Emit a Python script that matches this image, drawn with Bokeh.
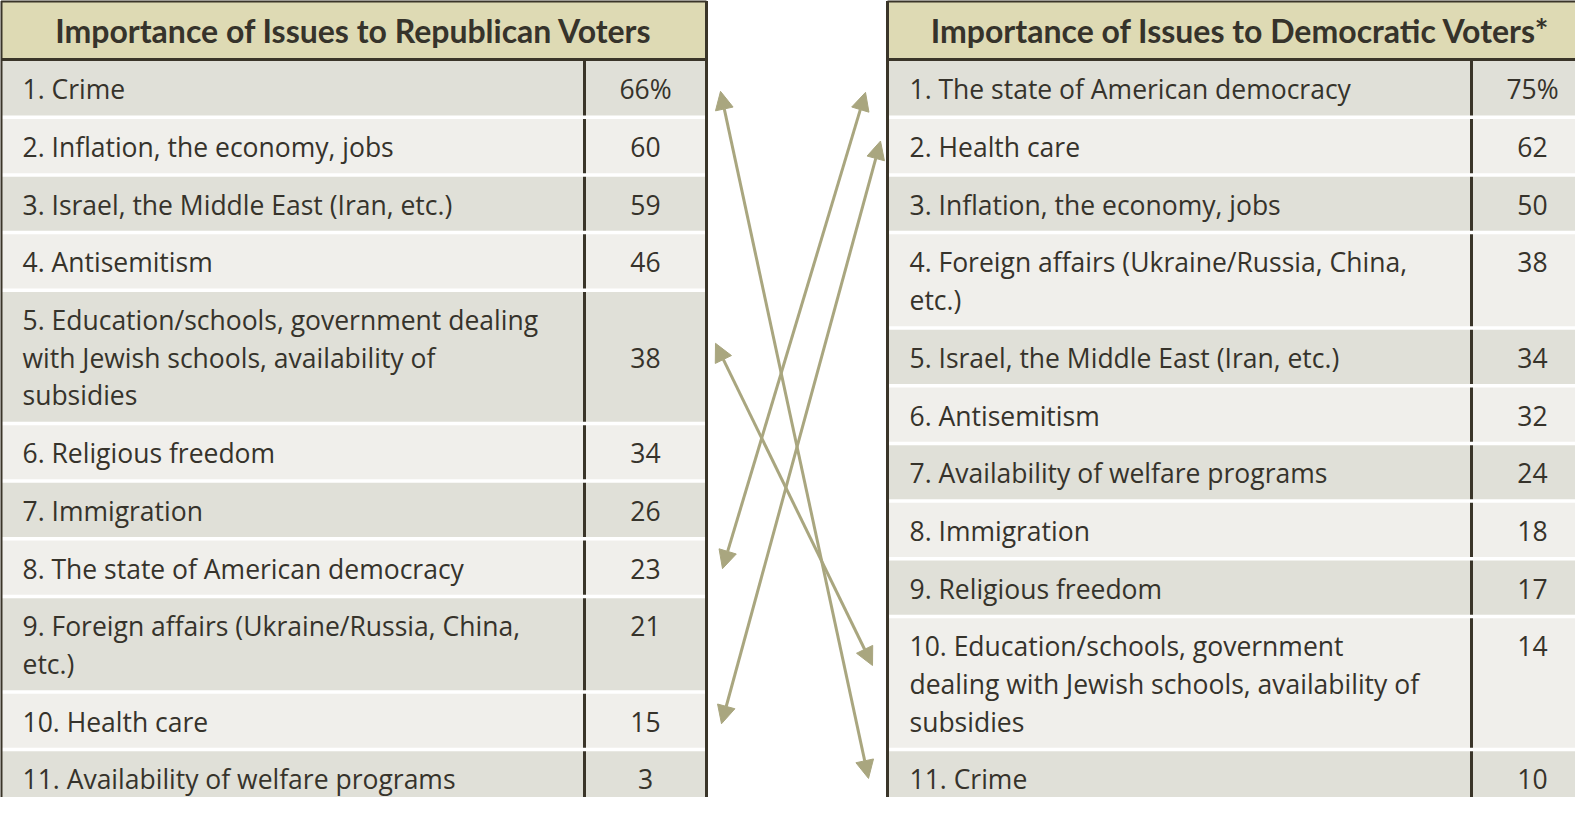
from bokeh.plotting import figure
from bokeh.models import Range1d, ColumnDataSource, Arrow, NormalHead
from bokeh.core.properties import value
from bokeh.embed import file_html
from bokeh.resources import INLINE

# ---------------- data ----------------
rep_title = "Importance of Issues to Republican Voters"
rep_issues = [
    "Crime",
    "Inflation, the economy, jobs",
    "Israel, the Middle East (Iran, etc.)",
    "Antisemitism",
    "Education/schools, government dealing\nwith Jewish schools, availability of\nsubsidies",
    "Religious freedom",
    "Immigration",
    "The state of American democracy",
    "Foreign affairs (Ukraine/Russia, China,\netc.)",
    "Health care",
    "Availability of welfare programs",
]
rep_values = [66, 60, 59, 46, 38, 34, 26, 23, 21, 15, 3]

dem_title = "Importance of Issues to Democratic Voters*"
dem_issues = [
    "The state of American democracy",
    "Health care",
    "Inflation, the economy, jobs",
    "Foreign affairs (Ukraine/Russia, China,\netc.)",
    "Israel, the Middle East (Iran, etc.)",
    "Antisemitism",
    "Availability of welfare programs",
    "Immigration",
    "Religious freedom",
    "Education/schools, government\ndealing with Jewish schools, availability of\nsubsidies",
    "Crime",
]
dem_values = [75, 62, 50, 38, 34, 32, 24, 18, 17, 14, 10]

arrow_issues = [
    "Crime",
    "The state of American democracy",
    "Health care",
    "Education/schools, government dealing with Jewish schools, availability of subsidies",
]

# ---------------- style ----------------
HEADER_TOP, HEADER_BOT = 8.5, 67
ROW_H, LINE_H = 57.7, 37.7
DARK = "#3a3529"
TXT = "#36332b"
HEADER_BG = "#dedab4"
ROW_DARK = "#e0e0d8"
ROW_LIGHT = "#f0efeb"
ARROW_C = "#a9a67f"
BODY_FONT = "Open Sans"
BODY_SIZE = 26.5
HEAD_FONT = "Lato"

p = figure(width=1575, height=797, x_range=Range1d(8, 1583), y_range=Range1d(805, 8),
           output_backend="svg", toolbar_location=None, min_border=0,
           x_axis_location=None, y_axis_location=None)
p.grid.visible = False
p.outline_line_color = None
p.background_fill_color = "white"
p.border_fill_color = "white"


def layout(labels):
    tops, bots = [], []
    y = HEADER_BOT
    for lab in labels:
        n = lab.count("\n") + 1
        h = ROW_H + LINE_H * (n - 1)
        tops.append(y)
        bots.append(y + h)
        y += h
    return tops, bots


def draw_table(title, issues, vals, x0, xdiv, x1, center_values=()):
    tops, bots = layout(issues)
    bottom = bots[-1]
    # header
    p.quad(left=[x0], right=[x1], top=[HEADER_TOP], bottom=[HEADER_BOT],
           fill_color=HEADER_BG, line_color=None)
    # rows
    colors = [ROW_DARK if i % 2 == 0 else ROW_LIGHT for i in range(len(issues))]
    p.quad(left=[x0] * len(issues), right=[x1] * len(issues), top=tops, bottom=bots,
           fill_color=colors, line_color=None)
    # divider
    p.segment(x0=[xdiv], y0=[HEADER_BOT], x1=[xdiv], y1=[bottom], line_color=DARK, line_width=3)
    # white separators
    seps = bots[:-1]
    p.segment(x0=[x0] * len(seps), y0=seps, x1=[x1] * len(seps), y1=seps,
              line_color="white", line_width=3.5)
    # borders
    p.segment(x0=[x0, x0, x0, x1], y0=[HEADER_TOP, HEADER_BOT, HEADER_TOP, HEADER_TOP],
              x1=[x1, x1, x0, x1], y1=[HEADER_TOP, HEADER_BOT, bottom, bottom],
              line_color=DARK, line_width=3)
    # header text
    p.text(x=[(x0 + x1) / 2], y=[38], text=[title],
           text_font=value(HEAD_FONT), text_font_style="bold", text_font_size="32px",
           text_color=TXT, text_align="center", text_baseline="middle")
    # issue text
    labels = [f"{i + 1}. {s}" for i, s in enumerate(issues)]
    mids = [(t + b) / 2 + 1 for t, b in zip(tops, bots)]
    p.text(x=[30] * len(labels) if x0 < 100 else [x0 + 22] * len(labels), y=mids, text=labels,
           text_font=value(BODY_FONT), text_font_size=f"{BODY_SIZE}px", text_color=TXT,
           text_align="left", text_baseline="middle", text_line_height=1.045)
    # values
    vtxt = [f"{v}%" if i == 0 else str(v) for i, v in enumerate(vals)]
    vy = [m if (i in center_values) else t + ROW_H / 2 + 1
          for i, (t, m) in enumerate(zip(tops, mids))]
    p.text(x=[(xdiv + x1) / 2] * len(vals), y=vy, text=vtxt,
           text_font=value(BODY_FONT), text_font_size=f"{BODY_SIZE}px", text_color=TXT,
           text_align="center", text_baseline="middle")
    return tops, bots


L = (8.5, 592, 714)
R = (895, 1479, 1601)
ltops, lbots = draw_table(rep_title, rep_issues, rep_values, *L, center_values=(4,))
rtops, rbots = draw_table(dem_title, dem_issues, dem_values, *R)


def norm(s):
    return s.replace("\n", " ")


def tip_y(tops, bots, i):
    return tops[i] + min((bots[i] - tops[i]) / 2 + 3, 52)


# small hand-drawn offsets of the arrow tips (left dx, left dy, right dx, right dy)
tweak = {
    "Crime": (0, 0, -1, -3),
    "The state of American democracy": (2, -2, -4, 1),
    "Health care": (1, 0, 11, -8),
    "Education/schools, government dealing with Jewish schools, availability of subsidies": (-5, 1, 3, -3),
}
rn = [norm(s) for s in rep_issues]
dn = [norm(s) for s in dem_issues]
xs0, ys0, xs1, ys1 = [], [], [], []
for issue in arrow_issues:
    li, ri = rn.index(issue), dn.index(issue)
    dx0, dy0, dx1, dy1 = tweak[issue]
    xs0.append(L[2] + 14 + dx0)
    ys0.append(tip_y(ltops, lbots, li) + dy0)
    xs1.append(R[0] - 18 + dx1)
    ys1.append(tip_y(rtops, rbots, ri) + dy1)

asrc = ColumnDataSource(dict(x0=xs0, y0=ys0, x1=xs1, y1=ys1))
p.add_layout(Arrow(x_start="x0", y_start="y0", x_end="x1", y_end="y1", source=asrc,
                   line_color=ARROW_C, line_width=3,
                   start=NormalHead(size=18, fill_color=ARROW_C, line_color=ARROW_C, line_width=1),
                   end=NormalHead(size=18, fill_color=ARROW_C, line_color=ARROW_C, line_width=1)))

open("out.html", "w").write(file_html(p, INLINE))
